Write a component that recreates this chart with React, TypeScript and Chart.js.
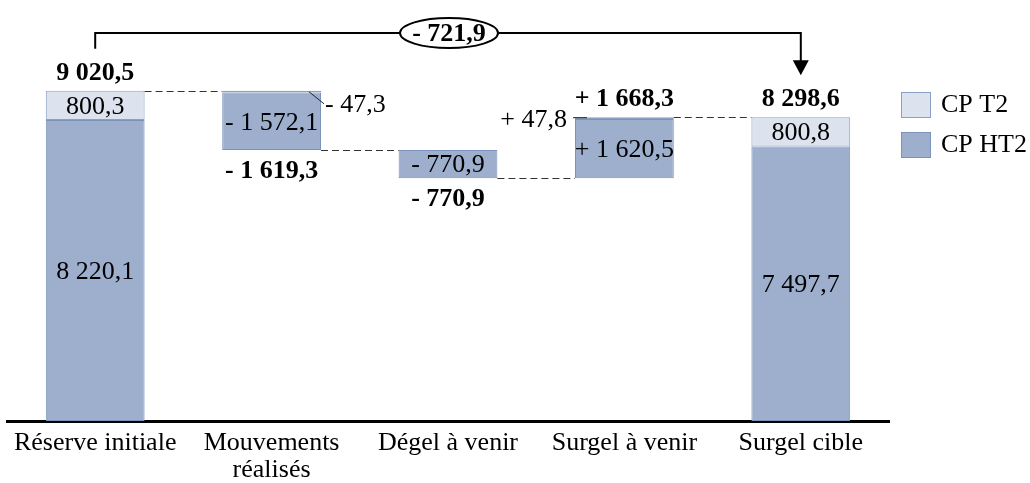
import React, { useEffect, useRef } from "react";
import { Chart, registerables } from "chart.js";

Chart.register(...registerables);

const categories = [["Réserve initiale"], ["Mouvements", "réalisés"], ["Dégel à venir"], ["Surgel à venir"], ["Surgel cible"]];
const ht2Values = [8220.1, -1572.1, -770.9, 1620.5, 7497.7];
const t2Values = [800.3, -47.3, 0, 47.8, 800.8];
const barTotals = [9020.5, -1619.3, -770.9, 1668.3, 8298.6];
const isTotal = [true, false, false, false, true];
const bracketValue = -721.9;
const seriesNames = ["CP T2", "CP HT2"];

const FONT = '"Liberation Serif", "Times New Roman", serif';
const FS = 26;
const HT2_FILL = "#9dafcd";
const HT2_BORDER = "#7b92bb";
const T2_FILL = "#dde3ee";
const T2_BORDER = "#8aa0c4";

function fmt(v: number, signed = false): string {
  const abs = Math.abs(v);
  const [int, dec] = abs.toFixed(1).split(".");
  const intS = int.replace(/\B(?=(\d{3})+(?!\d))/g, " ");
  const s = intS + "," + dec;
  if (!signed) return s;
  return (v < 0 ? "- " : "+ ") + s;
}

// Build floating ranges for the waterfall
const ht2Ranges: ([number, number] | null)[] = [];
const t2Ranges: ([number, number] | null)[] = [];
const levelsAfter: number[] = [];
{
  let level = 0;
  for (let i = 0; i < categories.length; i++) {
    const h = ht2Values[i];
    const t = t2Values[i];
    const tot = barTotals[i];
    if (isTotal[i]) {
      ht2Ranges.push([0, h]);
      t2Ranges.push([h, tot]);
      level = tot;
    } else if (tot < 0) {
      t2Ranges.push(t !== 0 ? [level + t, level] : null);
      ht2Ranges.push([level + tot, level + t]);
      level = level + tot;
    } else {
      ht2Ranges.push([level, level + h]);
      t2Ranges.push(t !== 0 ? [level + h, level + tot] : null);
      level = level + tot;
    }
    levelsAfter.push(level);
  }
}

const annotationPlugin = {
  id: "waterfallAnnotations",
  afterDatasetsDraw(chart: any) {
    const ctx = chart.ctx as CanvasRenderingContext2D;
    const xs = chart.scales.x;
    const ys = chart.scales.y;
    const area = chart.chartArea;
    const metaH = chart.getDatasetMeta(0);
    ctx.save();
    ctx.fillStyle = "#000";
    ctx.textBaseline = "middle";

    const text = (s: string, x: number, y: number, bold = false, align: CanvasTextAlign = "center") => {
      ctx.font = `${bold ? "bold " : ""}${FS}px ${FONT}`;
      ctx.textAlign = align;
      ctx.fillStyle = "#000";
      ctx.fillText(s, x, y + 1.5);
    };

    const geom: { cx: number; left: number; right: number; top: number; bottom: number }[] = [];
    for (let i = 0; i < categories.length; i++) {
      const cx = xs.getPixelForValue(i);
      const w = metaH.data[i].width;
      const vals = [ht2Ranges[i], t2Ranges[i]].filter(Boolean).flat() as number[];
      const top = ys.getPixelForValue(Math.max(...vals));
      const bottom = ys.getPixelForValue(Math.min(...vals));
      geom.push({ cx, left: cx - w / 2, right: cx + w / 2, top, bottom });
    }

    for (let i = 0; i < categories.length; i++) {
      const g = geom[i];
      const hr = ht2Ranges[i]!;
      const tr = t2Ranges[i];
      const hMid = (ys.getPixelForValue(hr[0]) + ys.getPixelForValue(hr[1])) / 2;
      if (isTotal[i]) {
        text(fmt(barTotals[i]), g.cx, g.top - 19, true);
        if (tr) {
          const tMid = (ys.getPixelForValue(tr[0]) + ys.getPixelForValue(tr[1])) / 2;
          text(fmt(t2Values[i]), g.cx, tMid);
        }
        text(fmt(ht2Values[i]), g.cx, hMid);
      } else {
        text(fmt(ht2Values[i], true), g.cx, hMid);
        if (barTotals[i] < 0) {
          text(fmt(barTotals[i], true), g.cx, g.bottom + 20, true);
        } else {
          text(fmt(barTotals[i], true), g.cx, g.top - 19, true);
        }
        if (t2Values[i] !== 0) {
          ctx.strokeStyle = "#222";
          ctx.lineWidth = 1;
          ctx.setLineDash([]);
          ctx.beginPath();
          if (t2Values[i] < 0) {
            ctx.moveTo(g.right - 12, g.top + 1);
            ctx.lineTo(g.right + 3, g.top + 13);
            ctx.stroke();
            text(fmt(t2Values[i], true), g.right + 4, g.top + 13, false, "left");
          } else {
            ctx.moveTo(g.left - 2, g.top + 0.5);
            ctx.lineTo(g.left + 12, g.top + 0.5);
            ctx.stroke();
            text(fmt(t2Values[i], true), g.left - 8, g.top + 1, false, "right");
          }
        }
      }
    }

    // dashed connectors
    ctx.strokeStyle = "#333";
    ctx.lineWidth = 1.2;
    ctx.setLineDash([7, 4]);
    for (let i = 0; i < categories.length - 1; i++) {
      const yv = Math.round(ys.getPixelForValue(levelsAfter[i])) + 0.5;
      ctx.beginPath();
      ctx.moveTo(geom[i].right, yv);
      ctx.lineTo(geom[i + 1].left, yv);
      ctx.stroke();
    }
    ctx.setLineDash([]);

    // bracket with arrow
    const g0 = geom[0];
    const gN = geom[geom.length - 1];
    const yLine = area.top + 33;
    ctx.strokeStyle = "#000";
    ctx.lineWidth = 2;
    ctx.beginPath();
    ctx.moveTo(g0.cx, g0.top - 42);
    ctx.lineTo(g0.cx, yLine);
    ctx.lineTo(gN.cx, yLine);
    ctx.lineTo(gN.cx, gN.top - 55);
    ctx.stroke();
    ctx.fillStyle = "#000";
    ctx.beginPath();
    ctx.moveTo(gN.cx - 8, gN.top - 57);
    ctx.lineTo(gN.cx + 8, gN.top - 57);
    ctx.lineTo(gN.cx, gN.top - 42);
    ctx.closePath();
    ctx.fill();

    const ex = (g0.cx + gN.cx) / 2 + 1;
    ctx.beginPath();
    ctx.ellipse(ex, yLine, 49, 15, 0, 0, Math.PI * 2);
    ctx.fillStyle = "#fff";
    ctx.fill();
    ctx.stroke();
    text(fmt(bracketValue, true), ex, yLine, true);

    // legend
    const lx = area.right + 12;
    const legendItems = [
      { name: seriesNames[0], fill: T2_FILL, border: T2_BORDER, y: 92 },
      { name: seriesNames[1], fill: HT2_FILL, border: HT2_BORDER, y: 132 },
    ];
    for (const it of legendItems) {
      ctx.fillStyle = it.fill;
      ctx.fillRect(lx, area.top + it.y, 30, 26);
      ctx.strokeStyle = it.border;
      ctx.lineWidth = 1;
      ctx.strokeRect(lx + 0.5, area.top + it.y + 0.5, 29, 25);
      text(it.name, lx + 40, area.top + it.y + 12, false, "left");
    }
    ctx.restore();
  },
};

export default function App() {
  const canvasRef = useRef<HTMLCanvasElement | null>(null);

  useEffect(() => {
    const canvas = canvasRef.current;
    if (!canvas) return;
    const chart = new Chart(canvas, {
      type: "bar",
      data: {
        labels: categories as any,
        datasets: [
          {
            label: seriesNames[1],
            data: ht2Ranges as any,
            backgroundColor: HT2_FILL,
            borderColor: HT2_BORDER,
            borderWidth: 1,
            borderSkipped: false,
            grouped: false,
            categoryPercentage: 1,
            barPercentage: 0.56,
          },
          {
            label: seriesNames[0],
            data: t2Ranges as any,
            backgroundColor: T2_FILL,
            borderColor: T2_BORDER,
            borderWidth: 1,
            borderSkipped: false,
            grouped: false,
            categoryPercentage: 1,
            barPercentage: 0.56,
          },
        ],
      },
      options: {
        responsive: false,
        animation: false,
        layout: { padding: { left: 7, right: 141, top: 0, bottom: 0 } },
        plugins: { legend: { display: false }, tooltip: { enabled: false } },
        scales: {
          x: {
            grid: { display: false, drawTicks: false },
            border: { display: true, color: "#000", width: 3 },
            ticks: {
              color: "#000",
              padding: 9,
              maxRotation: 0,
              autoSkip: false,
              font: { family: FONT, size: FS, lineHeight: 1.04 },
            },
            afterFit: (scale: any) => {
              scale.height = 62;
            },
          },
          y: {
            display: false,
            min: 0,
            max: 11500,
          },
        },
      },
      plugins: [annotationPlugin],
    });
    return () => chart.destroy();
  }, []);

  return (
    <div style={{ position: "absolute", left: 0, top: 0, width: 1030, height: 483, background: "#fff" }}>
      <canvas ref={canvasRef} width={1030} height={483} style={{ display: "block" }} />
    </div>
  );
}
